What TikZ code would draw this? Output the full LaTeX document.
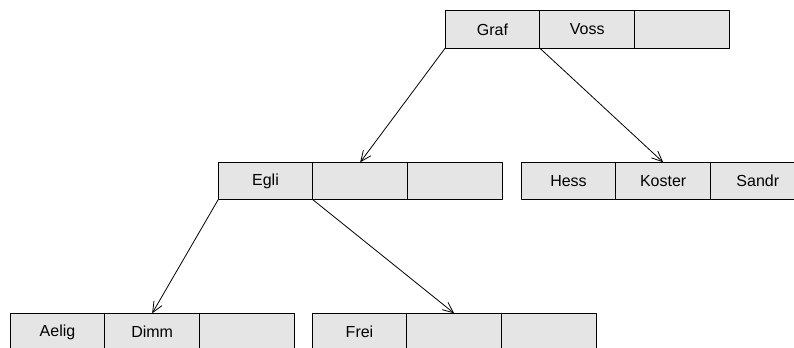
\documentclass[tikz,border=0pt]{standalone}
\usepackage{fontspec}
\setmainfont{Liberation Sans}
\usepackage{tikz}
\usetikzlibrary{arrows.meta,positioning}

\begin{document}
\begin{tikzpicture}[x=0.75pt,y=-0.75pt,>={Straight Barb[length=8pt,width=7pt]},line join=round,
  cell/.style={draw=black,fill=black!10,line width=0.6pt,minimum width=71pt,minimum height=28pt,
    inner sep=0pt,outer sep=0pt,font=\fontsize{12}{14}\selectfont}]
  \clip (0,0) rectangle (794,347);
  \useasboundingbox (0,0) rectangle (794,347);
  % root
  \node[cell] (graf) at (492.5,29.5) {Graf};
  \node[cell,right=0pt of graf] (voss) {Voss};
  \node[cell,right=0pt of voss] (rootc) {};
  % second level
  \node[cell] (egli) at (265.5,181) {Egli};
  \node[cell,right=0pt of egli] (eglib) {};
  \node[cell,right=0pt of eglib] (eglic) {};
  \node[cell] (hess) at (568.5,181) {Hess};
  \node[cell,right=0pt of hess] (koster) {Koster};
  \node[cell,right=0pt of koster] (sandr) {Sandr};
  % leaves
  \node[cell] (aelig) at (57.5,332) {Aelig};
  \node[cell,right=0pt of aelig] (dimm) {Dimm};
  \node[cell,right=0pt of dimm] (leafc) {};
  \node[cell] (frei) at (359.5,332) {Frei};
  \node[cell,right=0pt of frei] (freib) {};
  \node[cell,right=0pt of freib] (freic) {};
  % pointers
  \draw[->,line width=0.6pt] (graf.south west) -- (eglib.north);
  \draw[->,line width=0.6pt] (graf.south east) -- (koster.north);
  \draw[->,line width=0.6pt] (egli.south west) -- (dimm.north);
  \draw[->,line width=0.6pt] (egli.south east) -- (freib.north);
\end{tikzpicture}
\end{document}
